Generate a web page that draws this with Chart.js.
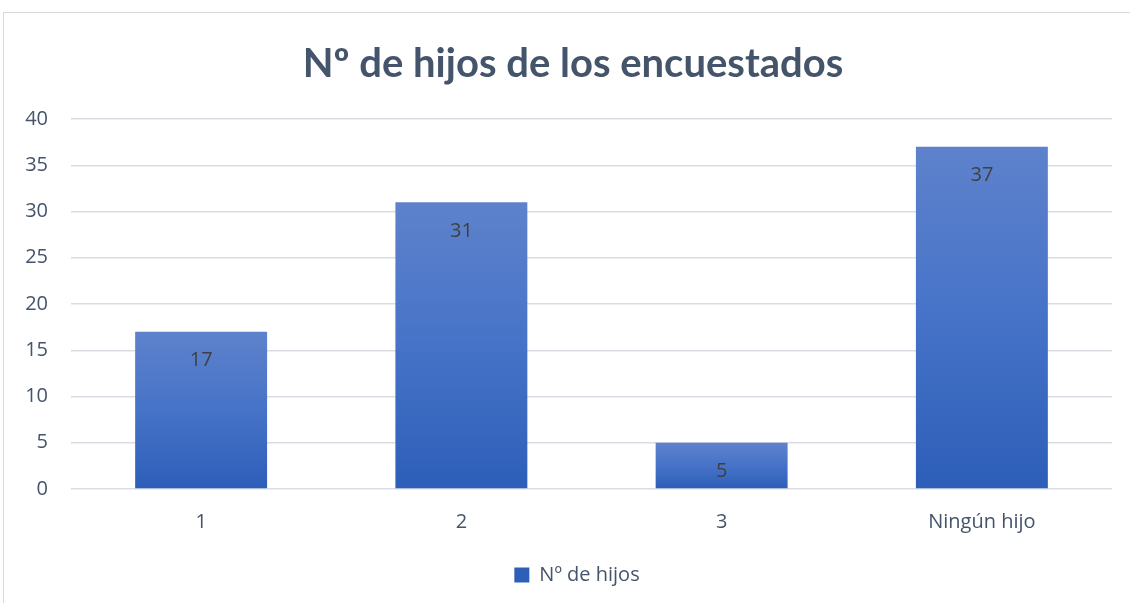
<!DOCTYPE html>
<html>
<head>
<meta charset="utf-8">
<script src="https://cdn.jsdelivr.net/npm/chart.js@4"></script>
<style>
  html, body { margin: 0; padding: 0; background: #fff; }
  #wrap { position: relative; width: 1130px; height: 603px; }
  #frame { position: absolute; left: 3px; top: 12px; width: 1140px; height: 620px; border: 1px solid #D9D9D9; box-sizing: border-box; pointer-events: none; }
  canvas { position: absolute; left: 0; top: 0; }
</style>
</head>
<body>
<div id="wrap">
  <div id="frame"></div>
  <canvas id="c" width="1130" height="603"></canvas>
</div>
<script>
const chartTitle = "Nº de hijos de los encuestados";
const categories = ["1", "2", "3", "Ningún hijo"];
const seriesName = "Nº de hijos";
const seriesValues = [17, 31, 5, 37];
const yTicks = [0, 5, 10, 15, 20, 25, 30, 35, 40];

const TITLE_FONT = "Lato, 'Open Sans', sans-serif";
const FONT = "'Open Sans', Lato, sans-serif";

function barFill(ctx) {
  const chart = ctx.chart;
  if (ctx.type !== 'data' || !chart.chartArea) return '#4A74C6';
  const y = chart.scales.y;
  const top = y.getPixelForValue(ctx.raw);
  const base = y.getPixelForValue(0);
  const g = chart.ctx.createLinearGradient(0, top, 0, base);
  g.addColorStop(0, '#5E82CC');
  g.addColorStop(0.5, '#4673C8');
  g.addColorStop(1, '#2D5EB8');
  return g;
}

const dataLabels = {
  id: 'dataLabels',
  afterDatasetsDraw(chart) {
    const c = chart.ctx;
    const meta = chart.getDatasetMeta(0);
    c.save();
    c.font = "20px " + FONT;
    c.fillStyle = '#404040';
    c.textAlign = 'center';
    c.textBaseline = 'middle';
    meta.data.forEach((el, i) => {
      c.fillText(String(chart.data.datasets[0].data[i]), el.x, el.y + 29);
    });
    c.restore();
  }
};

const shiftBlocks = {
  id: 'shiftBlocks',
  afterLayout(chart) {
    if (chart.titleBlock) chart.titleBlock.left = 34;
    if (chart.legend) chart.legend.left = 42;
  }
};

new Chart(document.getElementById('c'), {
  type: 'bar',
  data: {
    labels: categories,
    datasets: [{
      label: seriesName,
      data: seriesValues,
      backgroundColor: barFill,
      borderWidth: 0,
      barPercentage: 0.507,
      categoryPercentage: 1.0
    }]
  },
  options: {
    responsive: false,
    animation: false,
    devicePixelRatio: 1,
    layout: { padding: { left: 0, right: 18, top: 0, bottom: 8 } },
    plugins: {
      title: {
        display: true,
        text: chartTitle,
        color: '#44546A',
        font: { family: TITLE_FONT, size: 40, weight: 'bold' },
        padding: { top: 40, bottom: 31 }
      },
      legend: {
        display: true,
        position: 'bottom',
        labels: {
          color: '#44546A',
          font: { family: FONT, size: 20 },
          boxWidth: 15,
          boxHeight: 15,
          padding: 10
        }
      },
      tooltip: { enabled: false }
    },
    scales: {
      x: {
        grid: { display: false, drawTicks: false },
        border: { display: false },
        ticks: { color: '#44546A', font: { family: FONT, size: 20 }, padding: 21 }
      },
      y: {
        min: 0, max: 40,
        afterFit(s) { s.width = 71; },
        afterBuildTicks(s) { s.ticks = yTicks.map(v => ({ value: v })); },
        grid: { color: '#D9DDE3', lineWidth: 1.5, drawTicks: false },
        border: { display: false },
        ticks: { color: '#44546A', font: { family: FONT, size: 20 }, padding: 23 }
      }
    }
  },
  plugins: [dataLabels, shiftBlocks]
});
</script>
</body>
</html>
